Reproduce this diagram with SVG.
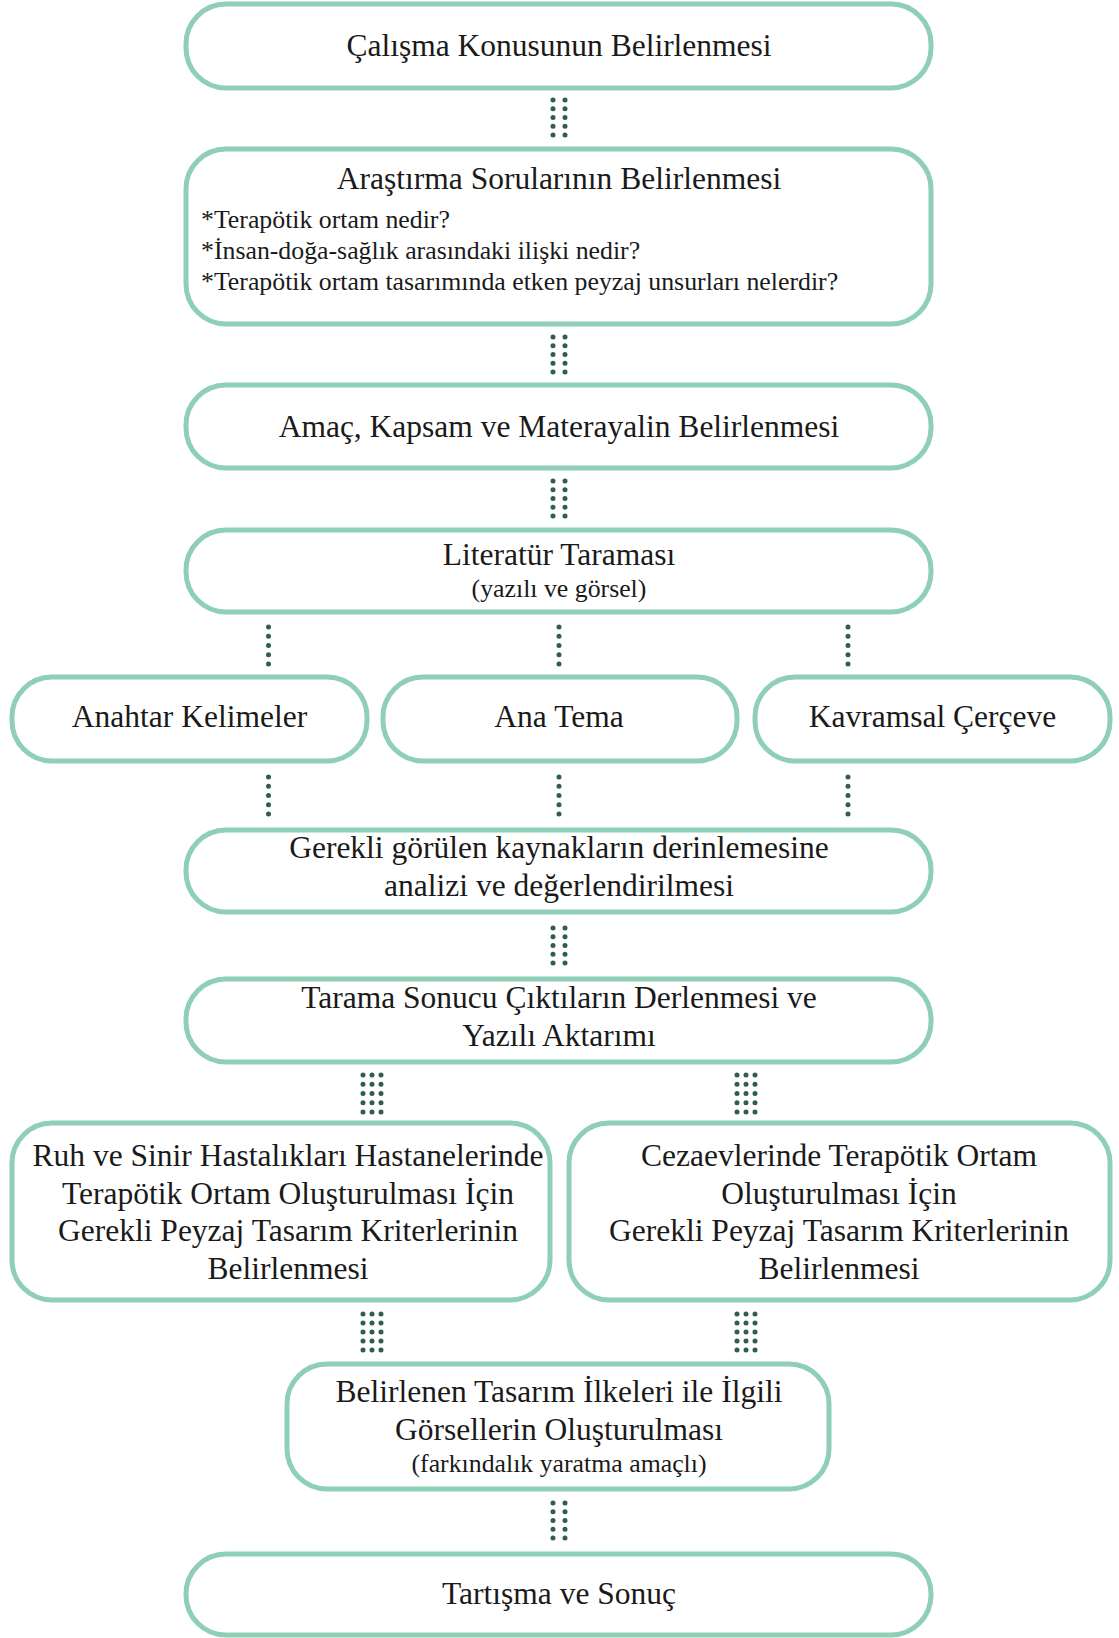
<svg xmlns="http://www.w3.org/2000/svg" width="1119" height="1638" viewBox="0 0 1119 1638">
<style>
.box{fill:#fff;stroke:#8ecfb5;stroke-width:5}
.t{font-family:"Liberation Serif","Times New Roman",serif;font-size:31.5px;fill:#1a1a1a;text-anchor:middle}
.s{font-family:"Liberation Serif","Times New Roman",serif;font-size:25.8px;fill:#1a1a1a}
.sc{font-family:"Liberation Serif","Times New Roman",serif;font-size:25.8px;fill:#1a1a1a;text-anchor:middle}
.d{stroke:#2f5d4f;stroke-width:5;stroke-linecap:round;fill:none}
</style>
<rect width="1119" height="1638" fill="#fff"/>
<g id="connectors">
<path class="d" stroke-dasharray="0 8.75" d="M553 100V135.2M565 100V135.2"/>
<path class="d" stroke-dasharray="0 8.75" d="M553 337V372.2M565 337V372.2"/>
<path class="d" stroke-dasharray="0 8.75" d="M553 481V516.2M565 481V516.2"/>
<path class="d" stroke-dasharray="0 9.25" d="M268.5 627V664.2M559 627V664.2M848 627V664.2"/>
<path class="d" stroke-dasharray="0 9.25" d="M268.5 777V814.2M559 777V814.2M848 777V814.2"/>
<path class="d" stroke-dasharray="0 8.75" d="M553 928V963.2M565 928V963.2"/>
<path class="d" stroke-dasharray="0 9.25" d="M363 1075V1112.2M372 1075V1112.2M381 1075V1112.2M737 1075V1112.2M746 1075V1112.2M755 1075V1112.2"/>
<path class="d" stroke-dasharray="0 9" d="M363 1314V1350.2M372 1314V1350.2M381 1314V1350.2M737 1314V1350.2M746 1314V1350.2M755 1314V1350.2"/>
<path class="d" stroke-dasharray="0 8.75" d="M553 1503V1538.2M565 1503V1538.2"/>
</g>
<g id="n1"><rect class="box" x="186" y="4" width="745" height="84" rx="40"/><text class="t" x="559" y="56">Çalışma Konusunun Belirlenmesi</text></g>
<g id="n2"><rect class="box" x="186" y="149" width="745" height="175" rx="40"/><text class="t" x="559" y="189">Araştırma Sorularının Belirlenmesi</text>
<text class="s" x="201" y="228">*Terapötik ortam nedir?</text>
<text class="s" x="201" y="259">*İnsan-doğa-sağlık arasındaki ilişki nedir?</text>
<text class="s" x="201" y="290">*Terapötik ortam tasarımında etken peyzaj unsurları nelerdir?</text></g>
<g id="n3"><rect class="box" x="186" y="385" width="745" height="83" rx="40"/><text class="t" x="559" y="437">Amaç, Kapsam ve Materayalin Belirlenmesi</text></g>
<g id="n4"><rect class="box" x="186" y="530" width="745" height="82" rx="40"/><text class="t" x="559" y="565">Literatür Taraması</text><text class="sc" x="559" y="597">(yazılı ve görsel)</text></g>
<g id="n5"><rect class="box" x="12" y="677" width="355" height="84" rx="40"/><text class="t" x="189.5" y="727">Anahtar Kelimeler</text></g>
<g id="n6"><rect class="box" x="383" y="677" width="354" height="84" rx="40"/><text class="t" x="559" y="727">Ana Tema</text></g>
<g id="n7"><rect class="box" x="755" y="677" width="355" height="84" rx="40"/><text class="t" x="932.5" y="727">Kavramsal Çerçeve</text></g>
<g id="n8"><rect class="box" x="186" y="830" width="745" height="82" rx="40"/><text class="t" x="559" y="858">Gerekli görülen kaynakların derinlemesine</text><text class="t" x="559" y="896">analizi ve değerlendirilmesi</text></g>
<g id="n9"><rect class="box" x="186" y="979" width="745" height="83" rx="40"/><text class="t" x="559" y="1008">Tarama Sonucu Çıktıların Derlenmesi ve</text><text class="t" x="559" y="1046">Yazılı Aktarımı</text></g>
<g id="n10"><rect class="box" x="12" y="1123" width="538" height="177" rx="40"/>
<text class="t" x="288" y="1166">Ruh ve Sinir Hastalıkları Hastanelerinde</text>
<text class="t" x="288" y="1204">Terapötik Ortam Oluşturulması İçin</text>
<text class="t" x="288" y="1241">Gerekli Peyzaj Tasarım Kriterlerinin</text>
<text class="t" x="288" y="1279">Belirlenmesi</text></g>
<g id="n11"><rect class="box" x="569" y="1123" width="541" height="177" rx="40"/>
<text class="t" x="839" y="1166">Cezaevlerinde Terapötik Ortam</text>
<text class="t" x="839" y="1204">Oluşturulması İçin</text>
<text class="t" x="839" y="1241">Gerekli Peyzaj Tasarım Kriterlerinin</text>
<text class="t" x="839" y="1279">Belirlenmesi</text></g>
<g id="n12"><rect class="box" x="287" y="1364" width="542" height="125" rx="40"/>
<text class="t" x="559" y="1402">Belirlenen Tasarım İlkeleri ile İlgili</text>
<text class="t" x="559" y="1440">Görsellerin Oluşturulması</text>
<text class="sc" x="559" y="1472">(farkındalık yaratma amaçlı)</text></g>
<g id="n13"><rect class="box" x="186" y="1554" width="745" height="81" rx="40"/><text class="t" x="559" y="1604">Tartışma ve Sonuç</text></g>
</svg>
